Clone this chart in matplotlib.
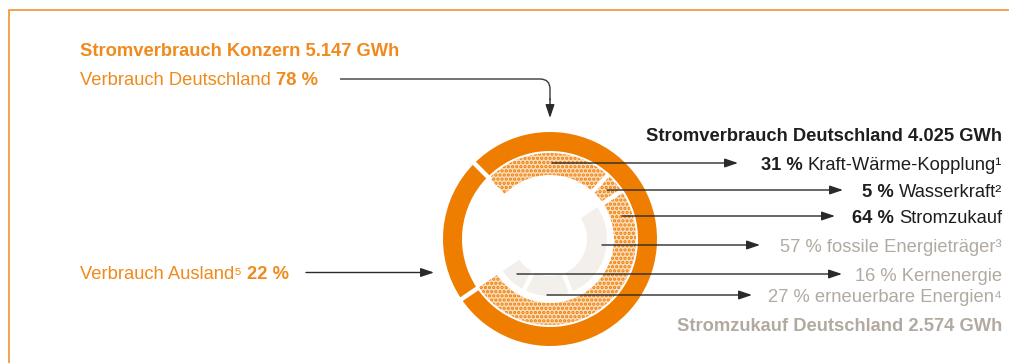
import matplotlib
matplotlib.use("Agg")
import matplotlib.pyplot as plt
from matplotlib.patches import Wedge, PathPatch
from matplotlib.path import Path
import numpy as np

# Daten
konzern_titel = "Stromverbrauch Konzern 5.147 GWh"
aussen_namen = ["Verbrauch Deutschland", "Verbrauch Ausland\u2075"]
aussen_werte = [78, 22]

de_titel = "Stromverbrauch Deutschland 4.025 GWh"
de_namen = ["Kraft-W\u00e4rme-Kopplung\u00b9", "Wasserkraft\u00b2", "Stromzukauf"]
de_werte = [31, 5, 64]

zukauf_titel = "Stromzukauf Deutschland 2.574 GWh"
zukauf_namen = ["fossile Energietr\u00e4ger\u00b3", "erneuerbare Energien\u2074", "Kernenergie"]
zukauf_werte = [57, 27, 16]

# Farben
ORANGE = "#ef7d00"
TXT_OR = "#f08a1c"
DUNKEL = "#1e1e1e"
GRAU_TXT = "#b2aaa1"
GRAU_RING = "#f3efea"
PFIRSICH = "#fbdcbc"

plt.rcParams["font.family"] = ["Liberation Sans", "DejaVu Sans"]
plt.rcParams["hatch.linewidth"] = 1.6

fig = plt.figure(figsize=(10.09, 3.63), dpi=100)
ax = fig.add_axes([0, 0, 1, 1])
ax.set_xlim(0, 1009)
ax.set_ylim(363, 0)
ax.axis("off")

# Rahmen oben und links
ax.plot([8.5, 8.5, 1009], [363, 9.5, 9.5], color="#f39a45", lw=1.3, solid_capstyle="butt")

cx, cy = 550, 239
start = 135  # Startwinkel (mathematisch, Grad)


def ring(werte, von, spanne, r_in, r_out, farben, hatch=None):
    # Winkel im Uhrzeigersinn; y-Achse invertiert -> Datenwinkel = -Winkel
    anteile = np.array(werte) / sum(werte) * spanne
    grenzen = von + np.concatenate([[0], np.cumsum(anteile)])
    for i in range(len(werte)):
        w = Wedge((cx, cy), r_out, -(start - grenzen[i]), -(start - grenzen[i + 1]),
                  width=r_out - r_in, facecolor=farben[i], lw=0,
                  edgecolor=ORANGE if hatch else "none", hatch=hatch)
        ax.add_patch(w)
    # weisse Fugen
    for g in grenzen[1:-1]:
        a = np.deg2rad(-(start - g))
        ax.plot([cx + (r_in - 2) * np.cos(a), cx + (r_out + 2) * np.cos(a)],
                [cy + (r_in - 2) * np.sin(a), cy + (r_out + 2) * np.sin(a)],
                color="white", lw=3.2, solid_capstyle="butt")
    return grenzen


g_aussen = ring(aussen_werte, 0, 360, 88, 107, [ORANGE, ORANGE])
# Fuge auch am Start
a0 = np.deg2rad(-start)
ax.plot([cx + 86 * np.cos(a0), cx + 109 * np.cos(a0)],
        [cy + 86 * np.sin(a0), cy + 109 * np.sin(a0)], color="white", lw=3.2)

de_spanne = g_aussen[1]
g_de = ring(de_werte, 0, de_spanne, 64, 86, [PFIRSICH] * 3, hatch="....")
ring(zukauf_werte, g_de[2], g_de[3] - g_de[2], 37, 57, [GRAU_RING] * 3)

fig.canvas.draw()
renderer = fig.canvas.get_renderer()

FS = 13.2


def breite(t):
    bb = t.get_window_extent(renderer=renderer)
    return bb.width


def zeile(teile, x, y, ha, farbe, size=FS):
    # teile: Liste (text, fett); mehrere Schnitte in einer Zeile
    luecke = 5
    if ha == "right":
        for text, fett in reversed(teile):
            t = ax.text(x, y, text, ha="right", va="baseline", color=farbe, fontsize=size,
                        fontweight="bold" if fett else "normal")
            x -= breite(t) + luecke
    else:
        for text, fett in teile:
            t = ax.text(x, y, text, ha="left", va="baseline", color=farbe, fontsize=size,
                        fontweight="bold" if fett else "normal")
            x += breite(t) + luecke


def pfeil(x0, y0, x1, y1):
    ax.annotate("", xy=(x1, y1), xytext=(x0, y0),
                arrowprops=dict(arrowstyle="-|>,head_length=0.8,head_width=0.27",
                                color="#2a2a2a", lw=1.0, shrinkA=0, shrinkB=0))


# linke Seite
zeile([(konzern_titel, True)], 80, 56, "left", TXT_OR)
zeile([(aussen_namen[0], False), (f"{aussen_werte[0]} %", True)], 80, 85, "left", TXT_OR)
zeile([(aussen_namen[1], False), (f"{aussen_werte[1]} %", True)], 80, 279, "left", TXT_OR)

pfad = Path([(340, 79), (540, 79), (550, 79), (550, 89), (550, 100)],
            [Path.MOVETO, Path.LINETO, Path.CURVE3, Path.CURVE3, Path.LINETO])
ax.add_patch(PathPatch(pfad, facecolor="none", edgecolor="#3a3a3a", lw=1.0))
pfeil(550, 99, 550, 118)
pfeil(306, 272.5, 434, 272.5)

# rechte Seite
XR = 1002
zeile([(de_titel, True)], XR, 141, "right", DUNKEL)
rechts_y = [163, 190, 216]
pfeil_x = [(552, 738), (607, 843), (622, 835)]
for name, wert, y, (x0, x1) in zip(de_namen, de_werte, rechts_y, pfeil_x):
    zeile([(f"{wert} %", True), (name, False)], XR, y + 7, "right", DUNKEL)
    pfeil(x0, y, x1, y)

zuk_y = [245, 295, 274]
zuk_pfeil = [(602, 760), (547, 752), (517, 842)]
for name, wert, y, (x0, x1) in zip(zukauf_namen, zukauf_werte, zuk_y, zuk_pfeil):
    zeile([(f"{wert} % {name}", False)], XR, y + 7, "right", GRAU_TXT)
    pfeil(x0, y, x1, y)
zeile([(zukauf_titel, True)], XR, 331, "right", GRAU_TXT)

fig.savefig("out.png", dpi=100)
